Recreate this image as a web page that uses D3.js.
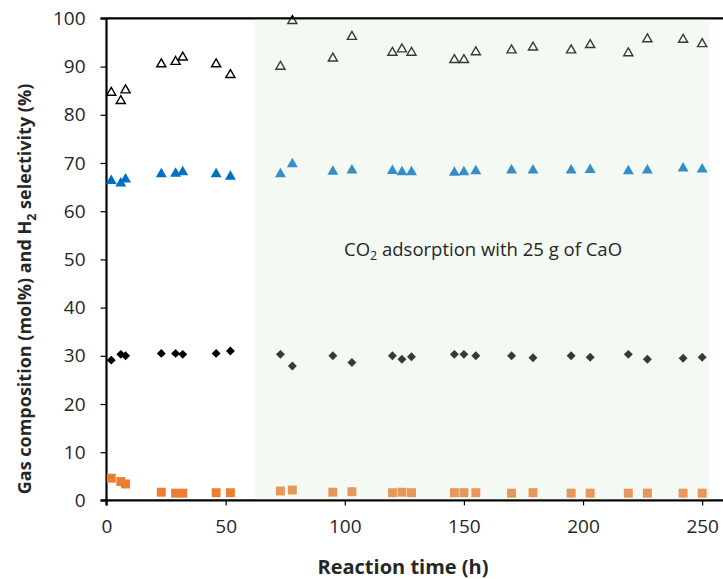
<!DOCTYPE html>
<html>
<head>
<meta charset="utf-8">
<script src="https://cdn.jsdelivr.net/npm/d3@7"></script>
<style>
  body { margin: 0; background: #fff; }
  svg text { font-family: "Open Sans", sans-serif; }
</style>
</head>
<body>
<div id="grafico"></div>
<script>
// tempo de reacao (h)
var tempos = [2, 6, 8, 23, 29, 32, 46, 52, 73, 78, 95, 103, 120, 124, 128, 146, 150, 155, 170, 179, 195, 203, 219, 227, 242, 250];
// seletividade H2 (%) - triangulos abertos
var selH2 = [84.6, 82.9, 85.1, 90.5, 91.0, 91.9, 90.5, 88.3, 90.0, 99.5, 91.7, 96.2, 92.9, 93.6, 92.9, 91.4, 91.4, 93.0, 93.4, 94.0, 93.4, 94.5, 92.8, 95.7, 95.6, 94.7];
// H2 (mol%) - triangulos azuis
var compH2 = [66.3, 65.8, 66.6, 67.7, 67.8, 68.1, 67.7, 67.2, 67.7, 69.8, 68.2, 68.5, 68.4, 68.1, 68.1, 68.0, 68.1, 68.3, 68.5, 68.5, 68.5, 68.6, 68.3, 68.5, 68.9, 68.7];
// CH4 (mol%) - losangos
var compCH4 = [29.1, 30.3, 30.0, 30.5, 30.5, 30.3, 30.5, 31.0, 30.3, 27.9, 30.0, 28.6, 30.0, 29.3, 29.8, 30.3, 30.3, 30.0, 30.0, 29.6, 30.0, 29.7, 30.3, 29.3, 29.5, 29.7];
// CO2 (mol%) - quadrados
var compCO2 = [4.6, 3.9, 3.4, 1.7, 1.5, 1.5, 1.6, 1.6, 1.95, 2.15, 1.7, 1.8, 1.6, 1.7, 1.6, 1.6, 1.6, 1.6, 1.5, 1.6, 1.5, 1.5, 1.5, 1.5, 1.5, 1.5];

var ticksX = [0, 50, 100, 150, 200, 250],
    ticksY = [0, 10, 20, 30, 40, 50, 60, 70, 80, 90, 100],
    faixaCaO = [62.2, 253.4],
    textoCaO = "adsorption with 25 g of CaO";

var largura = 723, altura = 579;

var svg = d3.select("#grafico").append("svg")
    .attr("width", largura)
    .attr("height", altura);

var x = d3.scaleLinear().domain([0, 260]).range([106.5, 726]);
var y = d3.scaleLinear().domain([0, 100]).range([500.4, 18.4]);

function pontos(valores) {
    return tempos.map(function(t, i) { return {t: t, v: valores[i]}; });
}

function desenhaSerie(valores, simbolo, tamanho, fill, stroke, sw, rot) {
    svg.append("g").selectAll("path")
        .data(pontos(valores))
        .enter().append("path")
        .attr("d", d3.symbol().type(simbolo).size(tamanho))
        .attr("transform", function(d) {
            return "translate(" + x(d.t) + "," + y(d.v) + ")" + (rot ? " rotate(" + rot + ")" : "");
        })
        .attr("fill", fill)
        .attr("stroke", stroke)
        .attr("stroke-width", sw);
}

// eixos
var eixoY = svg.append("g")
    .attr("transform", "translate(" + x(0) + ",0)")
    .call(d3.axisLeft(y).tickValues(ticksY).tickSize(6).tickPadding(15));
var eixoX = svg.append("g")
    .attr("transform", "translate(0," + y(0) + ")")
    .call(d3.axisBottom(x).tickValues(ticksX).tickSize(5).tickPadding(14));

[eixoX, eixoY].forEach(function(e) {
    e.select(".domain").remove();
    e.selectAll("line").attr("stroke", "#000").attr("stroke-width", 1.2);
    e.selectAll("text").attr("font-size", "19px").attr("fill", "#262626");
});

// linhas do quadro
svg.append("line").attr("x1", x(0) - 6).attr("x2", largura).attr("y1", y(0)).attr("y2", y(0))
    .attr("stroke", "#000").attr("stroke-width", 2.2);
svg.append("line").attr("x1", x(0)).attr("x2", x(0)).attr("y1", y(100)).attr("y2", y(0) + 5)
    .attr("stroke", "#000").attr("stroke-width", 2.2);
svg.append("line").attr("x1", x(0) - 6).attr("x2", largura).attr("y1", y(100)).attr("y2", y(100))
    .attr("stroke", "#000").attr("stroke-width", 2.2);

// series
desenhaSerie(compCO2, d3.symbolSquare, 80, "#ed7d31", "none", 0);
desenhaSerie(compCH4, d3.symbolSquare, 40, "#000", "none", 0, 45);
desenhaSerie(compH2, d3.symbolTriangle, 52, "#0070c0", "none", 0);
desenhaSerie(selH2, d3.symbolTriangle, 36, "none", "#000", 1.4);

// regiao com CaO (sobreposta, semi transparente)
svg.append("rect")
    .attr("x", x(faixaCaO[0]))
    .attr("y", y(100) + 1)
    .attr("width", x(faixaCaO[1]) - x(faixaCaO[0]))
    .attr("height", y(0) - y(100) - 2)
    .attr("fill", "rgb(211,231,211)")
    .attr("fill-opacity", 0.25);

var anot = svg.append("text")
    .attr("x", 344)
    .attr("y", 256)
    .attr("font-size", "18.5px")
    .attr("fill", "#262626");
anot.append("tspan").text("CO");
anot.append("tspan").attr("font-size", "12.5px").attr("dy", 4).text("2");
anot.append("tspan").attr("dy", -4).text(" " + textoCaO);

// titulos
svg.append("text")
    .attr("x", 403)
    .attr("y", 574)
    .attr("text-anchor", "middle")
    .attr("font-size", "20px")
    .attr("font-weight", "bold")
    .attr("fill", "#262626")
    .text("Reaction time (h)");

var tituloY = svg.append("text")
    .attr("transform", "translate(31,289) rotate(-90)")
    .attr("text-anchor", "middle")
    .attr("font-size", "18px")
    .attr("font-weight", "bold")
    .attr("fill", "#262626");
tituloY.append("tspan").text("Gas composition (mol%) and H");
tituloY.append("tspan").attr("font-size", "12.5px").attr("dy", 5).text("2");
tituloY.append("tspan").attr("dy", -5).text(" selectivity  (%)");
</script>
</body>
</html>
